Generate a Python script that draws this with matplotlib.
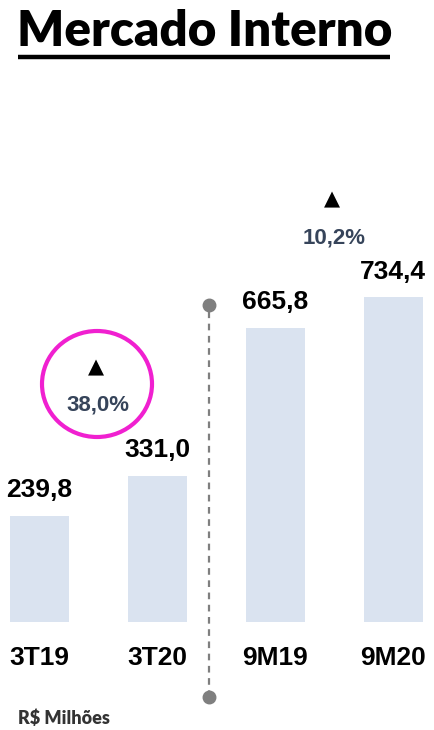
import numpy as np
import matplotlib.pyplot as plt
from matplotlib.patches import Ellipse

# dados
categorias = ['3T19', '3T20', '9M19', '9M20']
valores = [239.8, 331.0, 665.8, 734.4]
variacoes = ['38,0%', '10,2%']
titulo = 'Mercado Interno'
unidade = 'R$ Milhões'

W, H = 434, 730
fig = plt.figure(figsize=(W / 100, H / 100), dpi=100)

# eixo principal: base das barras em y=622px, topo em y=80px
base_px, topo_px = 622, 80
ax = fig.add_axes([0, 1 - base_px / H, 1, (base_px - topo_px) / H])
px_por_unid = 0.442
ax.set_ylim(0, (base_px - topo_px) / px_por_unid)
ax.set_xlim(-39 / 118, (W - 39) / 118)
ax.axis('off')

x = np.arange(len(categorias))
ax.bar(x, valores, width=0.5, color='#dae3f0')

for xi, v in zip(x, valores):
    ax.annotate(f'{v:.1f}'.replace('.', ','), (xi, v), xytext=(0, 10),
                textcoords='offset points', ha='center', va='bottom',
                fontsize=19, fontweight='bold', family='Liberation Sans')
    ax.annotate(categorias[xi], (xi, 0), xytext=(0, -26),
                textcoords='offset points', ha='center', va='center',
                fontsize=19, fontweight='bold', family='Liberation Sans',
                annotation_clip=False)

# variações entre pares
for k, (i, j) in enumerate([(0, 1), (2, 3)]):
    xm = (i + j) / 2
    ymax = max(valores[i], valores[j])
    y_txt = ymax + 160 if k == 0 else ymax + 135
    ax.text(xm - 0.02, y_txt + 86, '\u25B2', ha='center', va='center',
            fontsize=15, family='DejaVu Sans', color='black')
    ax.text(xm, y_txt, variacoes[k], ha='center', va='center',
            fontsize=16, fontweight='bold', family='Liberation Sans',
            color='#36445a')

# linha divisória tracejada
xdiv = 1.44
y0, y1 = -170, 717
ax.plot([xdiv, xdiv], [y0, y1], ls=(0, (3, 2.5)), color='#7f7f7f', lw=1.6,
        clip_on=False)
ax.plot([xdiv, xdiv], [y0, y1], 'o', color='#7f7f7f', ms=9, clip_on=False)

# camada em pixels para título e destaque
over = fig.add_axes([0, 0, 1, 1])
over.set_xlim(0, W)
over.set_ylim(H, 0)
over.axis('off')
over.patch.set_alpha(0)

over.text(17, 31, titulo, ha='left', va='center', fontsize=35.5,
          fontweight='heavy', family='Lato')
over.plot([18, 390], [57, 57], color='black', lw=3.2, solid_capstyle='butt')
over.text(18, 718, unidade, ha='left', va='center', fontsize=13,
          fontweight='heavy', family='Lato', color='#333333')

over.add_patch(Ellipse((97, 384), 110, 106, fill=False, ec='#f020d0', lw=3))

fig.savefig('out.png', dpi=100, facecolor='white')
